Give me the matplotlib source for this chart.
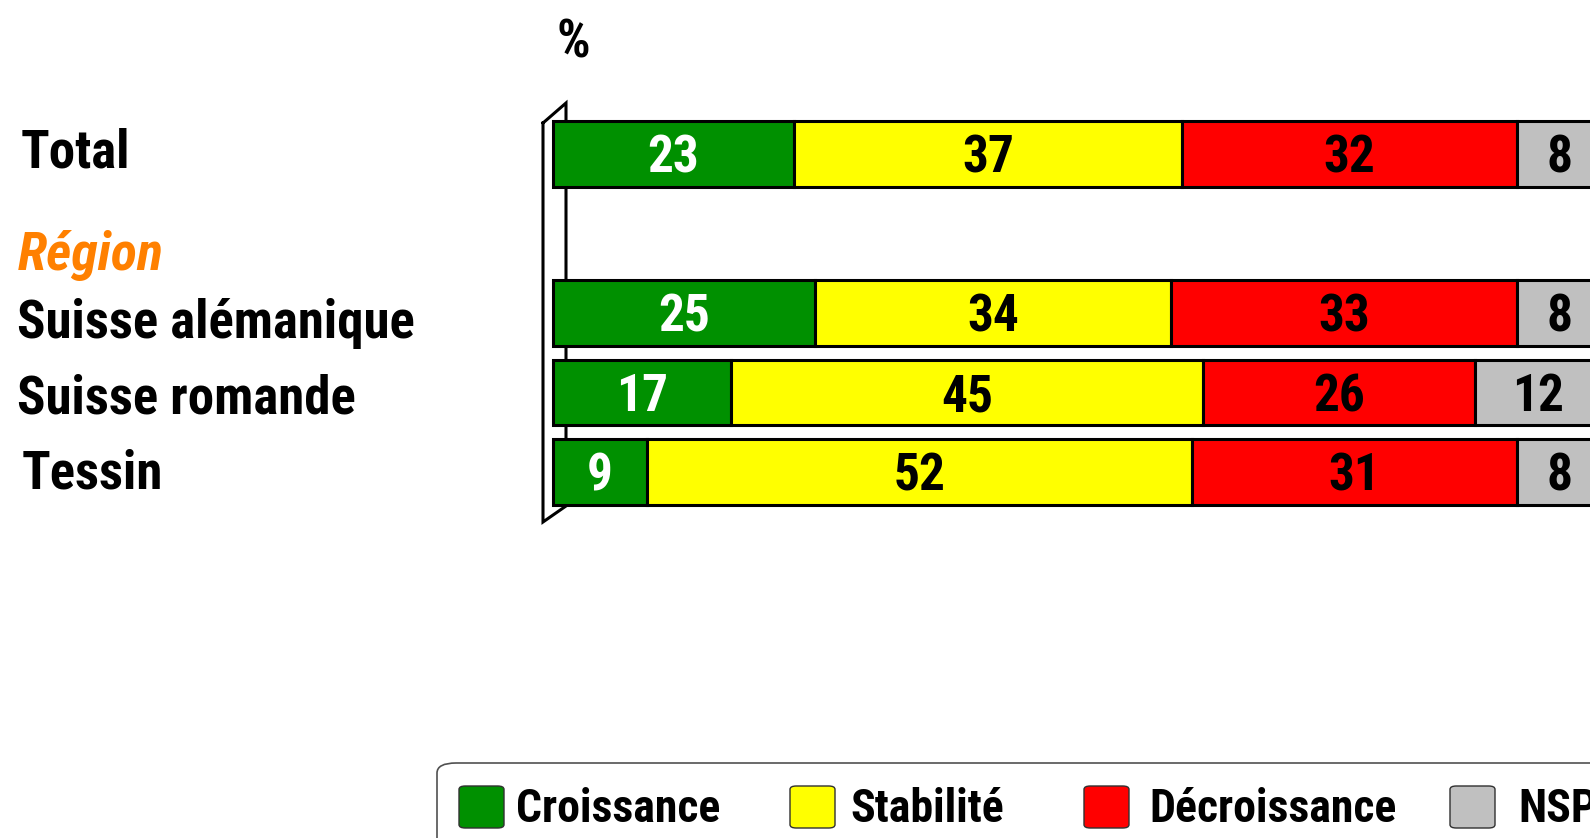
import matplotlib
matplotlib.use("Agg")
import matplotlib.pyplot as plt
from matplotlib import font_manager
from matplotlib.patches import FancyBboxPatch

# Survey answers per group (percentages)
groups = ["Total", "Suisse alémanique", "Suisse romande", "Tessin"]
croissance = [23, 25, 17, 9]
stabilite = [37, 34, 45, 52]
decroissance = [32, 33, 26, 31]
nsp = [8, 8, 12, 8]

series_names = ["Croissance", "Stabilité", "Décroissance", "NSP"]
colors = ["#009000", "#ffff00", "#ff0000", "#c0c0c0"]
text_colors = ["white", "black", "black", "black"]

# row positions, slot 1 holds the "Région" heading
rows = [0, 2, 3, 4]

# pick a narrow bold sans, close to Arial Narrow
names = {f.name for f in font_manager.fontManager.ttflist}
font = "DejaVu Sans"
for cand in ["Liberation Sans Narrow", "Arial Narrow", "Roboto Condensed",
             "Archivo Narrow", "PT Sans Narrow", "Open Sans Condensed"]:
    if cand in names:
        font = cand
        break
plt.rcParams["font.family"] = [font, "DejaVu Sans"]
plt.rcParams["font.weight"] = "bold"

W, H = 1590, 838
fig = plt.figure(figsize=(W / 100, H / 100), dpi=100)


def fx(px):
    return px / W


def fy(py):
    return 1 - py / H


# axes: x=0 at 553px, 10.48 px per percent; y rows 79.5 px apart
x0, unit = 553, 10.48
y_top, y_bot = 154 - 79.5, 472 + 79.5
ax = fig.add_axes([fx(x0), fy(y_bot), 100 * unit / W, (y_bot - y_top) / H])
ax.set_xlim(0, 100)
ax.set_ylim(5, -1)
ax.axis("off")

# back wall of the pseudo-3D frame
wall_x = [543, 566, 566, 543, 543]
wall_y = [123, 103, 506, 522, 123]
ax.fill([fx(v) for v in wall_x], [fy(v) for v in wall_y], color="white",
        transform=fig.transFigure, clip_on=False, zorder=1)
ax.plot([fx(v) for v in wall_x], [fy(v) for v in wall_y], color="black",
        lw=2.2, transform=fig.transFigure, clip_on=False, zorder=1,
        solid_joinstyle="miter")

left = [0] * len(groups)
for vals, col, tcol in zip([croissance, stabilite, decroissance, nsp], colors, text_colors):
    ax.barh(rows, vals, left=left, height=0.82, color=col,
            edgecolor="black", linewidth=2.2, zorder=3, clip_on=False)
    for r, v, l in zip(rows, vals, left):
        ax.annotate(str(v), (l + v / 2, r), xytext=(0, -13.5),
                    textcoords="offset points", ha="center", va="baseline",
                    color=tcol, fontsize=37, fontweight="bold", zorder=4,
                    annotation_clip=False)
    left = [a + b for a, b in zip(left, vals)]

# row labels (baselines in pixels)
label_x = [21, 17, 17, 22]
label_base = [167, 338, 413, 488]
for name, lx, lb in zip(groups, label_x, label_base):
    fig.text(fx(lx), fy(lb), name, ha="left", va="baseline",
             fontsize=38, fontweight="bold")
fig.text(fx(18), fy(270), "Région", ha="left", va="baseline", fontsize=39,
         fontweight="bold", style="italic", color="#ff8000")

fig.text(fx(573), fy(57), "%", ha="center", va="baseline", fontsize=38,
         fontweight="bold")

# legend frame and entries
frame = FancyBboxPatch((fx(437), fy(870)), fx(1300), fy(763) - fy(870),
                       boxstyle="round,pad=0,rounding_size=0.012",
                       transform=fig.transFigure, facecolor="white",
                       edgecolor="#505050", linewidth=1.2, clip_on=False)
fig.add_artist(frame)
patch_x = [459, 790, 1084, 1450]
text_x = [516, 850, 1149, 1518]
for name, col, px, tx in zip(series_names, colors, patch_x, text_x):
    sw = FancyBboxPatch((fx(px), fy(828)), fx(45), fy(786) - fy(828),
                        boxstyle="round,pad=0,rounding_size=0.004",
                        transform=fig.transFigure, facecolor=col,
                        edgecolor="#303030", linewidth=1.0)
    fig.add_artist(sw)
    fig.text(fx(tx), fy(822), name, ha="left", va="baseline", fontsize=33,
             fontweight="bold")

fig.savefig("out.png", dpi=100, facecolor="white")
